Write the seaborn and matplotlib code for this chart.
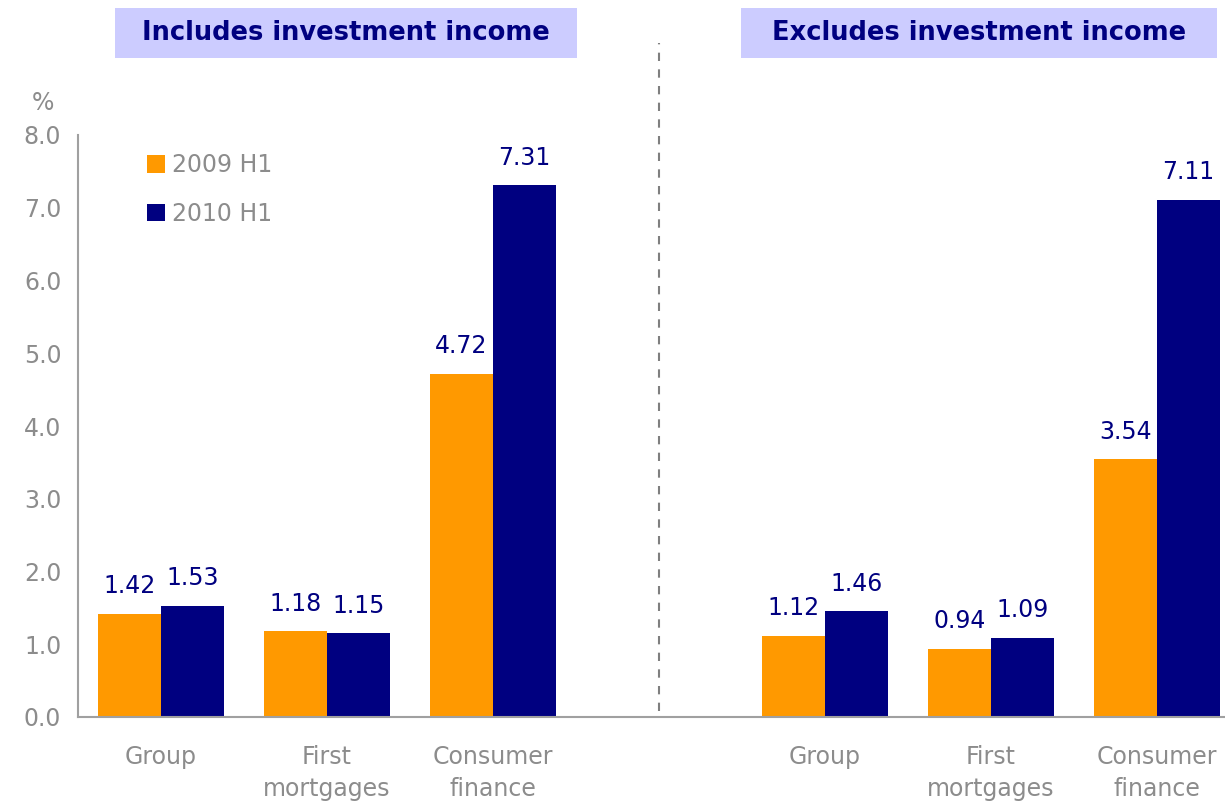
import numpy as np
import pandas as pd
import matplotlib
matplotlib.use("Agg")
import matplotlib.pyplot as plt
from matplotlib.patches import Rectangle
import seaborn as sns

# ---- data ----
categories = ["Group", "First\nmortgages", "Consumer\nfinance"]
series = ["2009 H1", "2010 H1"]
incl_2009 = [1.42, 1.18, 4.72]
incl_2010 = [1.53, 1.15, 7.31]
excl_2009 = [1.12, 0.94, 3.54]
excl_2010 = [1.46, 1.09, 7.11]
panel_titles = ["Includes investment income", "Excludes investment income"]
yticks = [0, 1, 2, 3, 4, 5, 6, 7, 8]

ORANGE = "#FF9900"
NAVY = "#000080"
GRAY = "#8C8C8C"
AXGRAY = "#A0A0A0"

rows = []
for panel, v09, v10 in [("incl", incl_2009, incl_2010), ("excl", excl_2009, excl_2010)]:
    for c, a, b in zip(categories, v09, v10):
        rows.append({"slot": f"{panel}|{c}", "series": series[0], "value": a})
        rows.append({"slot": f"{panel}|{c}", "series": series[1], "value": b})
df = pd.DataFrame(rows)
order = [f"incl|{c}" for c in categories] + ["gap"] + [f"excl|{c}" for c in categories]
slot_labels = categories + [""] + categories

sns.set_theme(style="white")
plt.rcParams["font.family"] = ["DejaVu Sans"]

fig = plt.figure(figsize=(12.25, 8.08), dpi=100)
W, H = 1225, 808
ax = fig.add_axes([78 / W, 1 - 717 / H, (1225 - 78) / W, (717 - 135) / H])

sns.barplot(data=df, x="slot", y="value", hue="series", order=order,
            hue_order=series, palette=[ORANGE, NAVY], saturation=1,
            width=0.76, ax=ax, linewidth=0, errorbar=None)

for cont in ax.containers:
    ax.bar_label(cont, fmt="%.2f", padding=11, color=NAVY, fontsize=17)

ax.set_yticks(yticks)
ax.set_yticklabels([f"{v:.1f}" for v in yticks], color=GRAY, fontsize=17)
ax.set_xticks(np.arange(-0.5, 7.0, 1.0))
ax.set_xticklabels([""] * 8)
ax.set_xticks(np.arange(0, 7), minor=True)
ax.set_xticklabels(slot_labels, minor=True, color=GRAY, fontsize=17, linespacing=1.45)
ax.set_ylim(0, 8)
ax.set_xlim(-0.5, 6.41)
ax.tick_params(axis="x", which="minor", length=0, pad=20)
ax.tick_params(axis="x", which="major", length=8, width=1.5, color=AXGRAY, direction="out")
ax.tick_params(axis="y", length=8, width=1.5, color=AXGRAY, direction="out", pad=4)
ax.set_xlabel("")
ax.set_ylabel("")
for s in ["top", "right"]:
    ax.spines[s].set_visible(False)
for s in ["left", "bottom"]:
    ax.spines[s].set_color(AXGRAY)
    ax.spines[s].set_linewidth(1.5)

# separator
ax.axvline(3, ymin=0.01, ymax=9.26 / 8, clip_on=False, color="#7F7F7F",
           linestyle=(0, (4, 4)), linewidth=1.5)

leg = ax.legend(loc="upper left", bbox_to_anchor=(0.052, 0.985), frameon=False,
                handlelength=0.75, handleheight=0.75, handletextpad=0.3,
                labelspacing=1.05, fontsize=17, borderaxespad=0)
for t in leg.get_texts():
    t.set_color(GRAY)

fig.text(43 / W, 1 - 103 / H, "%", color=GRAY, fontsize=17, ha="center", va="center")

# panel titles
for (x0, x1), title in zip([(115, 577), (741, 1217)], panel_titles):
    fig.patches.append(Rectangle((x0 / W, 1 - 58 / H), (x1 - x0) / W, 50 / H,
                                 transform=fig.transFigure, facecolor="#CCCCFF",
                                 edgecolor="none", zorder=0))
    fig.text((x0 + x1) / 2 / W, 1 - 33 / H, title, color=NAVY, fontsize=18.5,
             fontweight="bold", ha="center", va="center")

fig.savefig("out.png", dpi=100)
